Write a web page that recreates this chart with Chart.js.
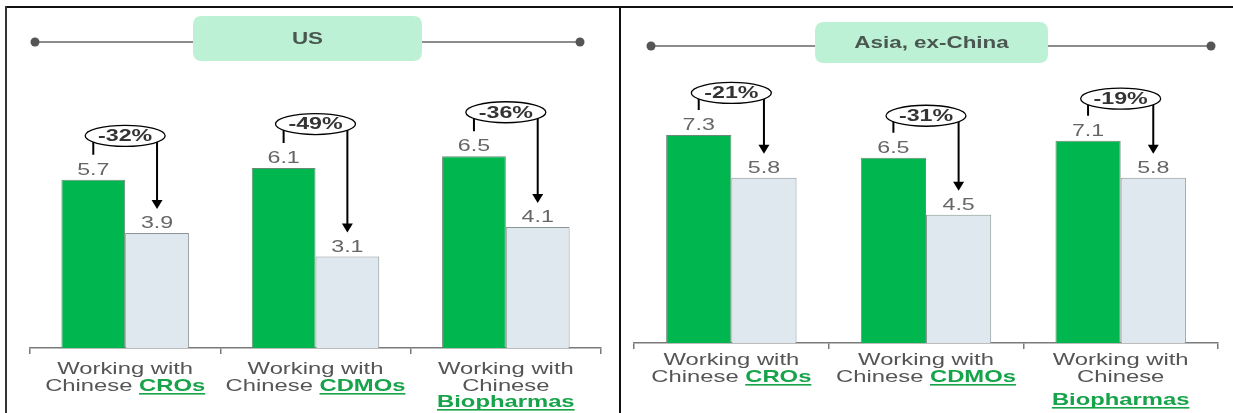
<!DOCTYPE html>
<html>
<head>
<meta charset="utf-8">
<script src="https://cdn.jsdelivr.net/npm/chart.js@4.4.0/dist/chart.umd.min.js"></script>
<style>
  html, body { margin: 0; padding: 0; background: #fff; }
  #wrap { position: relative; width: 1233px; height: 413px; overflow: hidden; }
  canvas { position: absolute; top: 0; }
  .rule { position: absolute; background: #111; }
</style>
</head>
<body>
<div id="wrap">
  <canvas id="us" width="620" height="413" style="left:0"></canvas>
  <canvas id="asia" width="613" height="413" style="left:620px"></canvas>
  <div class="rule" style="left:6px;top:6px;width:1227px;height:2px"></div>
  <div class="rule" style="left:5px;top:6px;width:2px;height:407px;background:#333"></div>
  <div class="rule" style="left:619px;top:6px;width:2px;height:407px"></div>
</div>
<script>
// data
var categories = ['CROs', 'CDMOs', 'Biopharmas'];
var labelTop = ['Working with', 'Working with', 'Working with'];
var labelMid = ['Chinese ', 'Chinese ', 'Chinese'];
var labelKey = ['CROs', 'CDMOs', 'Biopharmas'];
var keyOwnLine = [false, false, true];

var usBefore = [5.7, 6.1, 6.5];
var usAfter = [3.9, 3.1, 4.1];
var usChange = ['-32%', '-49%', '-36%'];

var asiaBefore = [7.3, 6.5, 7.1];
var asiaAfter = [5.8, 4.5, 5.8];
var asiaChange = ['-21%', '-31%', '-19%'];

var FONT = '"Liberation Sans", Arial, sans-serif';
var GREEN = '#00b74f';
var KEY_GREEN = '#16a34a';

function stretchText(ctx, text, x, y, sx, align) {
  var w = ctx.measureText(text).width * sx;
  var left = align === 'left' ? x : x - w / 2;
  ctx.save();
  ctx.translate(left, y);
  ctx.scale(sx, 1);
  ctx.textAlign = 'left';
  ctx.fillText(text, 0, 0);
  ctx.restore();
  return w;
}

function roundRect(ctx, x, y, w, h, r) {
  ctx.beginPath();
  ctx.moveTo(x + r, y);
  ctx.lineTo(x + w - r, y);
  ctx.quadraticCurveTo(x + w, y, x + w, y + r);
  ctx.lineTo(x + w, y + h - r);
  ctx.quadraticCurveTo(x + w, y + h, x + w - r, y + h);
  ctx.lineTo(x + r, y + h);
  ctx.quadraticCurveTo(x, y + h, x, y + h - r);
  ctx.lineTo(x, y + r);
  ctx.quadraticCurveTo(x, y, x + r, y);
  ctx.closePath();
}

var panelPlugin = {
  id: 'panel',
  afterDraw: function(chart) {
    var o = chart.options.plugins.panel;
    var ctx = chart.ctx;
    var area = chart.chartArea;
    var xs = chart.scales.x;
    var m0 = chart.getDatasetMeta(0), m1 = chart.getDatasetMeta(1);

    // title row
    ctx.save();
    ctx.strokeStyle = '#666';
    ctx.lineWidth = 1.5;
    ctx.beginPath();
    ctx.moveTo(o.lineX0, o.lineY);
    ctx.lineTo(o.lineX1, o.lineY);
    ctx.stroke();
    ctx.fillStyle = '#555';
    [o.lineX0, o.lineX1].forEach(function(x) {
      ctx.beginPath();
      ctx.arc(x, o.lineY, 4.5, 0, Math.PI * 2);
      ctx.fill();
    });
    ctx.fillStyle = '#bdf1d5';
    roundRect(ctx, o.pill[0], o.pill[1], o.pill[2], o.pill[3], 9);
    ctx.fill();
    ctx.fillStyle = '#4a5751';
    ctx.font = 'bold 16px ' + FONT;
    ctx.textBaseline = 'middle';
    stretchText(ctx, o.title, o.pill[0] + o.pill[2] / 2, o.pill[1] + o.pill[3] / 2 + 1, 1.4);
    ctx.restore();

    ctx.save();
    for (var i = 0; i < categories.length; i++) {
      var b0 = m0.data[i], b1 = m1.data[i];
      // value labels
      ctx.fillStyle = '#666';
      ctx.font = '16px ' + FONT;
      ctx.textBaseline = 'alphabetic';
      stretchText(ctx, String(o.before[i]), b0.x, b0.y - 5, 1.45);
      stretchText(ctx, String(o.after[i]), b1.x, b1.y - 5, 1.45);

      // change bracket
      var cx = (b0.x + b1.x) / 2;
      var cy = b0.y - o.ellipseGap;
      ctx.strokeStyle = '#000';
      ctx.lineWidth = 2;
      ctx.beginPath();
      ctx.moveTo(b0.x, cy);
      ctx.lineTo(b0.x, b0.y - 25);
      ctx.moveTo(b1.x, cy);
      ctx.lineTo(b1.x, b1.y - 32);
      ctx.stroke();
      ctx.fillStyle = '#000';
      ctx.beginPath();
      ctx.moveTo(b1.x, b1.y - 24);
      ctx.lineTo(b1.x - 5.5, b1.y - 33);
      ctx.lineTo(b1.x + 5.5, b1.y - 33);
      ctx.closePath();
      ctx.fill();

      ctx.beginPath();
      ctx.ellipse(cx, cy, 40, 10.5, 0, 0, Math.PI * 2);
      ctx.fillStyle = '#fff';
      ctx.fill();
      ctx.lineWidth = 1.3;
      ctx.stroke();
      ctx.fillStyle = '#333';
      ctx.font = 'bold 16px ' + FONT;
      ctx.textBaseline = 'middle';
      stretchText(ctx, o.change[i], cx, cy + 1, 1.45);

      // category labels
      var mid = xs.getPixelForValue(i);
      var base = area.bottom;
      ctx.textBaseline = 'alphabetic';
      ctx.fillStyle = '#555';
      ctx.font = '17px ' + FONT;
      stretchText(ctx, labelTop[i], mid, base + o.labelY[0], 1.4);
      var keyY;
      var keyX;
      ctx.font = 'bold 17px ' + FONT;
      var kw = ctx.measureText(labelKey[i]).width * 1.4;
      if (keyOwnLine[i]) {
        ctx.font = '17px ' + FONT;
        stretchText(ctx, labelMid[i], mid, base + o.labelY[1], 1.4);
        keyY = base + o.labelY[2];
        keyX = mid - kw / 2;
      } else {
        ctx.font = '17px ' + FONT;
        var pw = ctx.measureText(labelMid[i]).width * 1.4;
        var start = mid - (pw + kw) / 2;
        stretchText(ctx, labelMid[i], start, base + o.labelY[1], 1.4, 'left');
        keyY = base + o.labelY[1];
        keyX = start + pw;
      }
      ctx.fillStyle = KEY_GREEN;
      ctx.font = 'bold 17px ' + FONT;
      stretchText(ctx, labelKey[i], keyX, keyY, 1.4, 'left');
      ctx.fillRect(keyX, keyY + 2, kw, 1.6);
    }
    ctx.restore();
  }
};

function makeChart(id, before, after, change, cfg) {
  return new Chart(document.getElementById(id), {
    type: 'bar',
    data: {
      labels: categories,
      datasets: [
        { data: before, backgroundColor: GREEN, borderColor: '#6d8a78', borderWidth: 1 },
        { data: after, backgroundColor: '#dfe8ee', borderColor: '#8d9696', borderWidth: 1 }
      ]
    },
    options: {
      responsive: false,
      animation: false,
      events: [],
      layout: { padding: cfg.padding },
      datasets: { bar: { categoryPercentage: 0.67, barPercentage: 1 } },
      plugins: {
        legend: { display: false },
        tooltip: { enabled: false },
        panel: {
          title: cfg.title, pill: cfg.pill, lineY: cfg.lineY, lineX0: cfg.lineX0, lineX1: cfg.lineX1,
          before: before, after: after, change: change, ellipseGap: cfg.ellipseGap, labelY: cfg.labelY
        }
      },
      scales: {
        x: {
          grid: { display: true, drawOnChartArea: false, drawTicks: true, tickLength: 6, color: '#7a7a7a', lineWidth: 1.5, offset: true },
          border: { display: true, color: '#7a7a7a', width: 1.5 },
          ticks: { display: false }
        },
        y: { display: false, min: 0, max: 10 }
      }
    },
    plugins: [panelPlugin]
  });
}

makeChart('us', usBefore, usAfter, usChange, {
  title: 'US',
  padding: { left: 30, right: 19, top: 53, bottom: 59 },
  pill: [193, 16, 229, 45], lineY: 42, lineX0: 35, lineX1: 580,
  ellipseGap: 44, labelY: [26, 43, 59]
});

makeChart('asia', asiaBefore, asiaAfter, asiaChange, {
  title: 'Asia, ex-China',
  padding: { left: 14, right: 15, top: 58, bottom: 64 },
  pill: [195, 22, 233, 41], lineY: 46, lineX0: 31, lineX1: 591,
  ellipseGap: 42, labelY: [22, 39, 62]
});
</script>
</body>
</html>
